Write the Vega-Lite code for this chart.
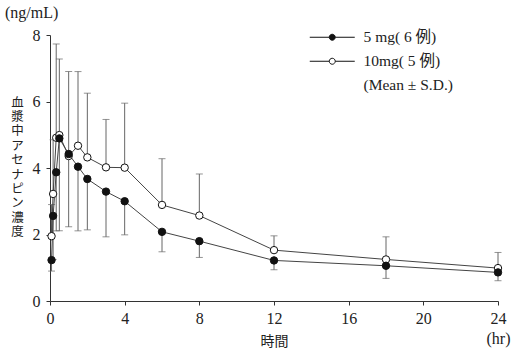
{
  "$schema": "https://vega.github.io/schema/vega-lite/v6.json",
  "width": 448,
  "height": 266,
  "autosize": {"type": "none"},
  "padding": {"left": 50, "top": 35, "right": 19, "bottom": 54},
  "background": "white",
  "config": {"view": {"stroke": null}, "font": "Liberation Serif, Noto Sans CJK JP"},
  "title": {"text": "(ng/mL)", "anchor": "start", "frame": "group", "dx": -45, "dy": 21, "offset": 14, "baseline": "alphabetic", "fontSize": 16, "fontWeight": "normal", "font": "Liberation Serif, Noto Sans CJK JP", "color": "#222"},
  "datasets": {
    "pk": [
      {"t": 0.083, "group": "10mg( 5 例)", "mean": 1.95, "end": 2.9},
      {"t": 0.167, "group": "10mg( 5 例)", "mean": 3.22, "end": 4.85},
      {"t": 0.333, "group": "10mg( 5 例)", "mean": 4.91, "end": 7.73},
      {"t": 0.5, "group": "10mg( 5 例)", "mean": 4.99, "end": 7.28},
      {"t": 1, "group": "10mg( 5 例)", "mean": 4.36, "end": 6.9},
      {"t": 1.5, "group": "10mg( 5 例)", "mean": 4.67, "end": 6.9},
      {"t": 2, "group": "10mg( 5 例)", "mean": 4.32, "end": 6.25},
      {"t": 3, "group": "10mg( 5 例)", "mean": 4.02, "end": 5.46},
      {"t": 4, "group": "10mg( 5 例)", "mean": 4.01, "end": 5.95},
      {"t": 6, "group": "10mg( 5 例)", "mean": 2.89, "end": 4.28},
      {"t": 8, "group": "10mg( 5 例)", "mean": 2.57, "end": 3.82},
      {"t": 12, "group": "10mg( 5 例)", "mean": 1.53, "end": 1.96},
      {"t": 18, "group": "10mg( 5 例)", "mean": 1.25, "end": 1.93},
      {"t": 24, "group": "10mg( 5 例)", "mean": 0.99, "end": 1.46},
      {"t": 0.083, "group": "5 mg( 6 例)", "mean": 1.23, "end": 0.9},
      {"t": 0.167, "group": "5 mg( 6 例)", "mean": 2.56, "end": 1.25},
      {"t": 0.333, "group": "5 mg( 6 例)", "mean": 3.87, "end": 2.11},
      {"t": 0.5, "group": "5 mg( 6 例)", "mean": 4.89, "end": 2.11},
      {"t": 1, "group": "5 mg( 6 例)", "mean": 4.42, "end": 2.23},
      {"t": 1.5, "group": "5 mg( 6 例)", "mean": 4.04, "end": 2.11},
      {"t": 2, "group": "5 mg( 6 例)", "mean": 3.67, "end": 2.14},
      {"t": 3, "group": "5 mg( 6 例)", "mean": 3.29, "end": 1.93},
      {"t": 4, "group": "5 mg( 6 例)", "mean": 3.0, "end": 1.99},
      {"t": 6, "group": "5 mg( 6 例)", "mean": 2.08, "end": 1.48},
      {"t": 8, "group": "5 mg( 6 例)", "mean": 1.8, "end": 1.31},
      {"t": 12, "group": "5 mg( 6 例)", "mean": 1.22, "end": 0.94},
      {"t": 18, "group": "5 mg( 6 例)", "mean": 1.06, "end": 0.68},
      {"t": 24, "group": "5 mg( 6 例)", "mean": 0.86, "end": 0.61}
    ]
  },
  "data": {"name": "pk"},
  "layer": [
    {
      "mark": {"type": "rule", "color": "#666", "strokeWidth": 1},
      "encoding": {
        "x": {
          "field": "t", "type": "quantitative",
          "scale": {"domain": [0, 24], "nice": false},
          "axis": {
            "values": [0, 4, 8, 12, 16, 20, 24],
            "title": "時間",
            "titleFont": "Noto Sans CJK JP",
            "titleFontSize": 14,
            "titleFontWeight": "normal",
            "titleColor": "#222",
            "titleY": 44,
            "titleBaseline": "alphabetic",
            "labelFontSize": 16,
            "labelColor": "#222",
            "labelExpr": "datum.value == 24 ? ['24', '(hr)'] : datum.label",
            "labelLineHeight": 20,
            "labelPadding": 5,
            "labelOverlap": false,
            "labelFlush": false,
            "tickSize": 4,
            "domainColor": "#333",
            "tickColor": "#333",
            "grid": false
          }
        },
        "y": {
          "field": "mean", "type": "quantitative",
          "scale": {"domain": [0, 8], "nice": false},
          "axis": {
            "values": [0, 2, 4, 6, 8],
            "title": ["血", "漿", "中", "ア", "セ", "ナ", "ピ", "ン", "濃", "度"],
            "titleAngle": 0,
            "titleX": -33,
            "titleY": 61,
            "titleBaseline": "top",
            "titleAlign": "center",
            "titleLineHeight": 14.4,
            "titleFont": "Noto Sans CJK JP",
            "titleFontSize": 12.5,
            "titleFontWeight": "normal",
            "titleColor": "#222",
            "labelFontSize": 16,
            "labelColor": "#222",
            "labelPadding": 6,
            "tickSize": 4,
            "domainColor": "#333",
            "tickColor": "#333",
            "grid": false
          }
        },
        "y2": {"field": "end"}
      }
    },
    {
      "mark": {"type": "tick", "orient": "horizontal", "color": "#666", "thickness": 1, "size": 7},
      "encoding": {
        "x": {"field": "t", "type": "quantitative"},
        "y": {"field": "end", "type": "quantitative"}
      }
    },
    {
      "mark": {"type": "line", "color": "#444", "strokeWidth": 1},
      "encoding": {
        "x": {"field": "t", "type": "quantitative"},
        "y": {"field": "mean", "type": "quantitative"},
        "detail": {"field": "group"}
      }
    },
    {
      "mark": {"type": "circle", "size": 55, "strokeWidth": 1, "opacity": 1},
      "encoding": {
        "x": {"field": "t", "type": "quantitative"},
        "y": {"field": "mean", "type": "quantitative"},
        "stroke": {
          "field": "group", "type": "nominal",
          "scale": {"domain": ["5 mg( 6 例)", "10mg( 5 例)", "(Mean ± S.D.)"], "range": ["#111", "#111", "transparent"]}
        },
        "fill": {
          "field": "group", "type": "nominal",
          "scale": {"domain": ["5 mg( 6 例)", "10mg( 5 例)", "(Mean ± S.D.)"], "range": ["#111", "white", "white"]},
          "legend": {
            "orient": "none",
            "legendX": 274.5,
            "legendY": -5.5,
            "title": null,
            "padding": 0,
            "symbolType": "M-7.5,0H-1M1,0H7.5M-1,0A1,1,0,1,0,1,0A1,1,0,1,0,-1,0Z",
            "symbolSize": 36,
            "symbolStrokeWidth": 1,
            "labelFont": "Liberation Serif, Noto Sans CJK JP",
            "labelFontSize": 15.5,
            "labelColor": "#222",
            "labelOffset": 23.5,
            "rowPadding": 7
          }
        }
      }
    }
  ]
}
